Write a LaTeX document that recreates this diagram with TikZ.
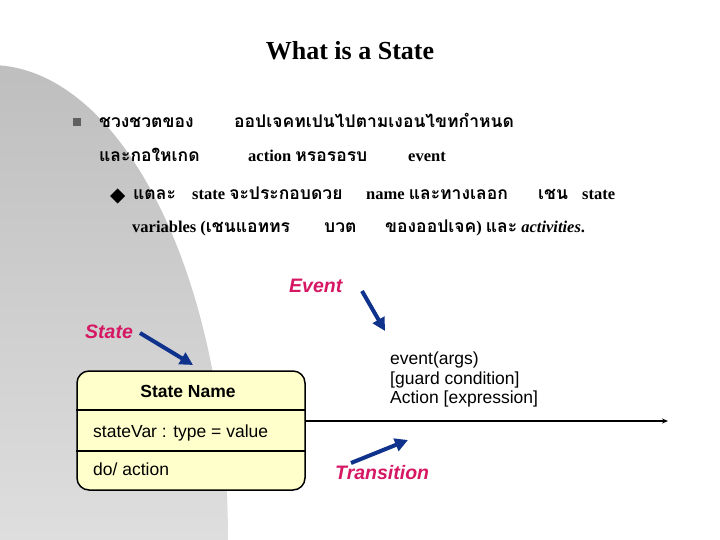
\documentclass[tikz,border=0pt]{standalone}
\usepackage{fontspec}
\setmainfont{Liberation Serif}
\newfontfamily\thaifont[Script=Thai]{Loma}
\newfontfamily\arialfont{Liberation Sans}
\usetikzlibrary{arrows.meta}
\newcommand{\thtxt}[1]{{\thaifont\bfseries\fontsize{17.5}{20}\selectfont #1}}
\definecolor{grayA}{RGB}{190,190,190}
\definecolor{grayB}{RGB}{222,222,222}
\definecolor{bulletgray}{RGB}{96,96,96}
\definecolor{labelred}{RGB}{214,24,100}
\definecolor{arrowblue}{RGB}{15,50,140}
\definecolor{boxyellow}{RGB}{255,255,204}
\tikzset{
  body/.style={inner sep=0pt, anchor=base west, font=\bfseries\fontsize{16.5}{20}\selectfont},
  callout/.style={inner sep=0pt, anchor=base west, text=labelred, font=\arialfont\bfseries\itshape\fontsize{19.5}{22}\selectfont},
  pointer/.style={draw=arrowblue, line width=4pt, -{Triangle[length=13pt,width=13pt]}},
  umltext/.style={inner sep=0pt, anchor=base west, font=\arialfont\fontsize{17.5}{20}\selectfont},
}
\begin{document}
\begin{tikzpicture}[x=1pt,y=-1pt]
\useasboundingbox (0,0) rectangle (720,540);
\fill[white] (0,0) rectangle (720,540);
% grey background shape
\begin{scope}
\clip (-10,540) ellipse [x radius=238, y radius=475];
\shade[top color=grayA, bottom color=grayB] (-20,60) rectangle (240,540);
\end{scope}
% title
\node[inner sep=0pt, anchor=base, font=\bfseries\fontsize{26}{30}\selectfont] (title) at (350,60) {What is a State};
% bullet
\fill[bulletgray] (73,118) rectangle (81,126);
\node[body] (l1a) at (99,128) {\thtxt{ชวงชวตของ}};
\node[body] (l1b) at (234,128) {\thtxt{ออปเจคทเปนไปตามเงอนไขทกำหนด}};
\node[body] (l2a) at (99,162) {\thtxt{และกอใหเกด}};
\node[body] (l2b) at (248,162) {action \thtxt{หรอรอรบ}};
\node[body] (l2c) at (408,162) {event};
% sub bullet diamond
\fill[black] (110,196) -- (117.5,188.5) -- (125,196) -- (117.5,203.5) -- cycle;
\node[body] (l3a) at (133,200) {\thtxt{แตละ}};
\node[body] (l3b) at (192,200) {state \thtxt{จะประกอบดวย}};
\node[body] (l3c) at (366,200) {name \thtxt{และทางเลอก}};
\node[body] (l3d) at (538,200) {\thtxt{เชน}};
\node[body] (l3e) at (582,200) {state};
\node[body] (l4a) at (132,233) {variables (\thtxt{เชนแอททร}};
\node[body] (l4b) at (324,233) {\thtxt{บวต}};
\node[body] (l4c) at (385,233) {\thtxt{ของออปเจค}) \thtxt{และ} \textit{activities}.};
% state box
\node[draw=black, line width=1.5pt, rounded corners=12pt, fill=boxyellow, minimum width=228pt, minimum height=119pt, inner sep=0pt] (box) at (191,430.5) {};
\draw[line width=1.5pt] (box.west |- 0,410) -- (box.east |- 0,410);
\draw[line width=1.5pt] (box.west |- 0,451) -- (box.east |- 0,451);
\node[inner sep=0pt, anchor=base, font=\arialfont\bfseries\fontsize{17.5}{20}\selectfont] (sname) at (188,397) {State Name};
\node[umltext] (svar) at (93,437) {stateVar : type = value};
\node[umltext] (sact) at (93,475) {do/ action};
% transition
\coordinate (tend) at (668,421);
\draw[line width=1.3pt, -{Stealth[length=6pt,width=5pt]}] (box.east |- tend) -- (tend);
\node[umltext, align=left, anchor=north west, font=\arialfont\fontsize{17.5}{19.5}\selectfont] (tlabel) at (390,352) {event(args)\\{}[guard condition]\\Action [expression]};
% callouts
\node[callout] (cevent) at (289,292) {Event};
\node[callout] (cstate) at (85,338) {State};
\node[callout] (ctrans) at (335,479) {Transition};
\coordinate (eventtip) at (385,331);
\coordinate (statetip) at (193,365);
\coordinate (transtip) at (408,440);
\coordinate (es) at (362,291);
\coordinate (ss) at (140,333);
\coordinate (ts) at (351,463);
\draw[pointer] (es) -- (eventtip);
\draw[pointer] (ss) -- (statetip);
\draw[pointer] (ts) -- (transtip);
\end{tikzpicture}
\end{document}
